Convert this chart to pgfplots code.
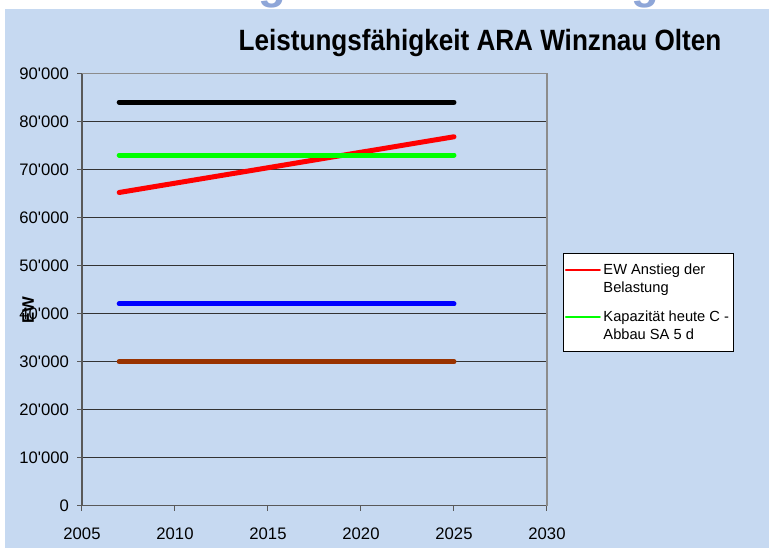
\documentclass[border=0pt]{standalone}
\usepackage{pgfplots}
\pgfplotsset{compat=1.18}
\usepackage{fontspec}
\setmainfont{Liberation Sans}
\usepackage{graphicx}
\definecolor{bg}{HTML}{C6D9F1}
\definecolor{brownx}{HTML}{993300}
\definecolor{gtop}{HTML}{8EA6D8}
\newcommand{\q}{\textquotesingle}
\begin{document}
\begin{tikzpicture}[x=1pt,y=1pt]
\path[use as bounding box] (0,0) rectangle (576.75,415.5);
\fill[white] (0,0) rectangle (576.75,415.5);
\fill[bg] (3.75,4.5) rectangle (576.75,408.75);
\begin{scope}
\clip (0,408.75) rectangle (576.75,415.5);
\node[gtop, inner sep=0, anchor=south, font=\fontsize{34}{40}\selectfont\bfseries] at (204,409.5) {g};
\node[gtop, inner sep=0, anchor=south, font=\fontsize{34}{40}\selectfont\bfseries] at (483.75,409.5) {g};
\end{scope}
\node[anchor=base, inner sep=0] at (360,377.25) {\scalebox{0.89}[1]{\fontsize{22}{26}\selectfont\bfseries Leistungsfähigkeit ARA Winznau Olten}};
\begin{axis}[
  at={(61.5pt,36.2pt)}, anchor=south west,
  scale only axis, width=348.75pt, height=324.3pt,
  xmin=2005, xmax=2030, ymin=0, ymax=90000,
  scaled y ticks=false, scaled x ticks=false,
  xtick={2005,2010,2015,2020,2025,2030},
  xticklabels={2005,2010,2015,2020,2025,2030},
  ytick={0,10000,20000,30000,40000,50000,60000,70000,80000,90000},
  yticklabels={0,10\q000,20\q000,30\q000,40\q000,50\q000,60\q000,70\q000,80\q000,90\q000},
  axis lines=left,
  axis line style={-, draw=black!65, line width=1.1pt},
  ymajorgrids,
  major grid style={black!80, line width=0.75pt},
  tick align=outside, major tick length=3.75pt,
  tick style={black!65, line width=0.75pt},
  ticklabel style={font=\fontsize{12.5}{15}\selectfont},
  yticklabel style={xshift=-2.5pt},
  xticklabel style={yshift=-9pt},
  ylabel={\fontsize{12.5}{15}\selectfont\bfseries EW},
  ylabel style={at={(rel axis cs:-0.116,0.4526)}, anchor=center, inner sep=0},
  legend cell align=left,
  legend image code/.code={\draw[#1, line width=1.5pt] (0pt,6.75pt) -- (25.5pt,6.75pt);},
  legend style={at={(1.0344,0.5844)}, anchor=north west, draw=black, line width=0.75pt,
    fill=white, font=\fontsize{11}{13.5}\selectfont,
    cells={align=left}, inner xsep=1pt, inner ysep=5.5pt, row sep=8.25pt},
  every axis plot/.append style={line width=3.75pt, line cap=round},
  after end axis/.code={\draw[black!45, line width=1.1pt] (rel axis cs:0,1) -- (rel axis cs:1,1) -- (rel axis cs:1,0);},
]
\addplot[black, forget plot] coordinates {(2007,84000) (2025,84000)};
\addplot[blue, forget plot] coordinates {(2007,42000) (2025,42000)};
\addplot[brownx, forget plot] coordinates {(2007,30000) (2025,30000)};
\addplot[red] coordinates {(2007,65200) (2025,76800)};
\addlegendentry{EW Anstieg der\\Belastung}
\addplot[green] coordinates {(2007,73000) (2025,73000)};
\addlegendentry{Kapazität heute C -\\Abbau SA 5 d}
\end{axis}
\end{tikzpicture}
\end{document}
